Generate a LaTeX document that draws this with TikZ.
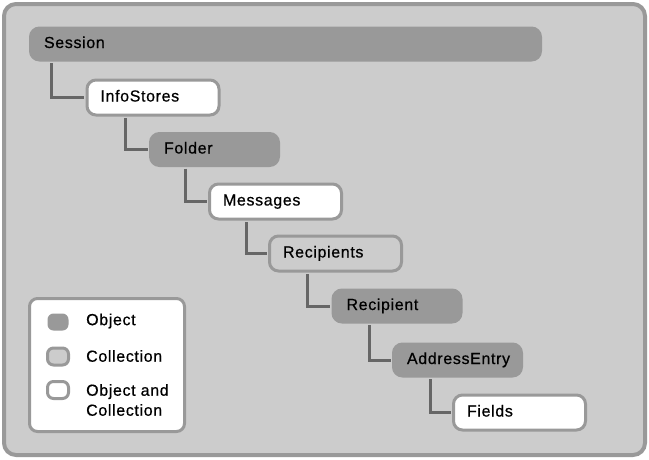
\documentclass[tikz,border=0pt]{standalone}
\usepackage{fontspec}
\setmainfont{Liberation Sans}
\newfontfamily\lblfamily[LetterSpace=4,FakeBold=0.6]{Liberation Sans}
\usetikzlibrary{calc}
\definecolor{gdark}{HTML}{999999}
\definecolor{glight}{HTML}{CCCCCC}
\definecolor{gline}{HTML}{666666}
\newcommand{\lblfont}{\lblfamily\fontsize{16}{20}\selectfont}
\tikzset{
  base/.style={rounded corners=9pt, line width=3pt, inner xsep=13.5pt, inner ysep=0pt,
    font=\lblfont, align=left, text height=11.5pt, text depth=3.5pt},
  objbox/.style={base, fill=gdark, draw=gdark, minimum height=32pt, text width=101pt},
  colbox/.style={base, fill=glight, draw=gdark, minimum height=35pt, text width=105pt},
  bothbox/.style={base, fill=white, draw=gdark, minimum height=35pt, text width=105pt},
  conn/.style={draw=gline, line width=3pt},
  swatch/.style={rounded corners=6pt, line width=3pt, minimum width=21pt, minimum height=17pt, inner sep=0pt},
  legtext/.style={font=\lblfont, anchor=west, inner sep=0pt, align=left},
}
\begin{document}
\begin{tikzpicture}[x=1pt,y=-1pt]
\useasboundingbox (0,0) rectangle (649,459);
\fill[white] (0,0) rectangle (649,459);
\node[draw=gdark, fill=glight, line width=4pt, rounded corners=12pt, minimum width=641pt, minimum height=451pt, inner sep=0pt] (frame) at (324.5,229.5) {};
% hierarchy
\node[objbox, text width=483pt] (session) at (285.5,44) {Session};
\node[bothbox] (infostores) at (153,97.5) {InfoStores};
\node[objbox] (folder) at (214.5,149.5) {Folder};
\node[bothbox] (messages) at (275.5,201.5) {Messages};
\node[colbox] (recipients) at (335.5,253.5) {Recipients};
\node[objbox] (recipient) at (397,306) {Recipient};
\node[objbox] (addressentry) at (457.5,360) {AddressEntry};
\node[bothbox] (fields) at (519.5,412.5) {Fields};
\draw[conn] ($(session.south west)+(22.5,1.5)$) |- ($(infostores.west)+(-1.5,0)$);
\draw[conn] ($(infostores.south west)+(39.5,1.5)$) |- ($(folder.west)+(-1.5,0)$);
\draw[conn] ($(folder.south west)+(36.5,1.5)$) |- ($(messages.west)+(-1.5,0)$);
\draw[conn] ($(messages.south west)+(38.5,1.5)$) |- ($(recipients.west)+(-1.5,0)$);
\draw[conn] ($(recipients.south west)+(39.5,1.5)$) |- ($(recipient.west)+(-1.5,0)$);
\draw[conn] ($(recipient.south west)+(37.5,1.5)$) |- ($(addressentry.west)+(-1.5,0)$);
\draw[conn] ($(addressentry.south west)+(38.5,1.5)$) |- ($(fields.west)+(-1.5,0)$);
% legend
\node[draw=gdark, fill=white, line width=3pt, rounded corners=8pt, minimum width=155pt, minimum height=133pt, inner sep=0pt] (legend) at (107,365) {};
\node[swatch, fill=gdark] (swobj) at (58,322) {};
\node[swatch, fill=glight, draw=gdark] (swcol) at (58,356.5) {};
\node[swatch, fill=white, draw=gdark] (swboth) at (58,390) {};
\node[legtext] (tobj) at (86,321) {Object};
\node[legtext] (tcol) at (86,356) {Collection};
\node[legtext] (tboth) at (86,400) {Object and\\Collection};
\end{tikzpicture}
\end{document}
